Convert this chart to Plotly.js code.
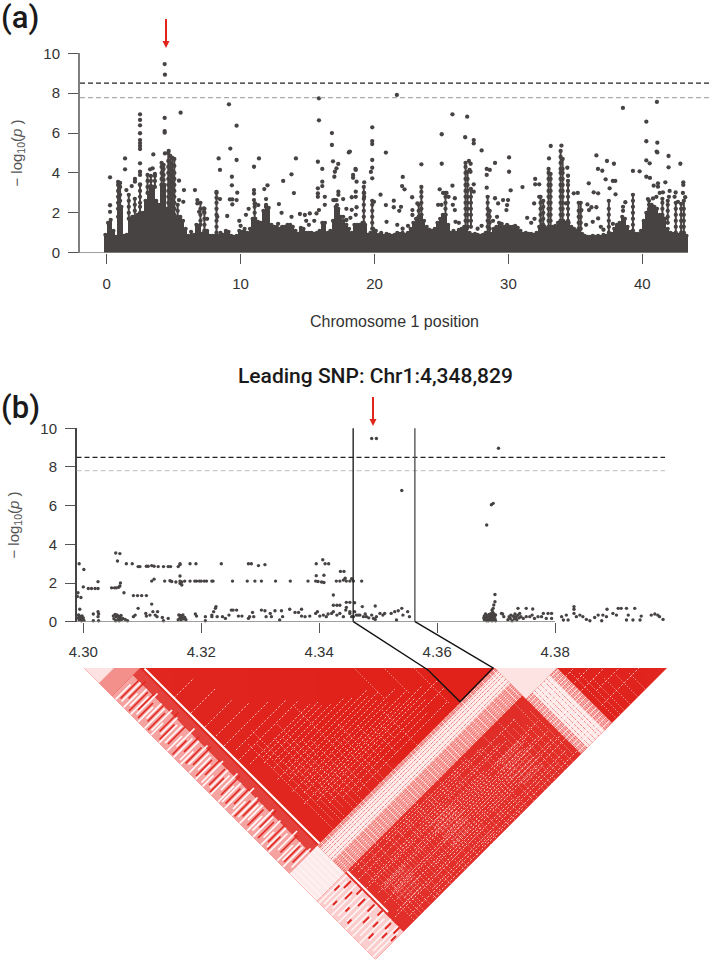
<!DOCTYPE html>
<html><head><meta charset="utf-8">
<script src="https://cdn.plot.ly/plotly-3.0.1.min.js"></script>
<style>html,body{margin:0;padding:0;background:#fff}</style></head>
<body><div id="chart" style="width:709px;height:968px"></div>
<script>
// ---------- panel (a): upper edge of the solid mass of points, every 0.2 Mb ----------
const aBinStart=-0.1, aBinStep=0.2;
const aBinTop=[.9,1.5,1.65,1.1,.8,2.2,2.3,.85,.9,1.7,1.8,1.8,1.9,1.95,2,2.6,3,3.35,3.3,2.6,2.4,3.4,3.4,2.2,2.1,2,1.8,1.7,1.8,1.6,1.2,.85,1.05,.9,1.4,1.35,.95,1.05,1.1,.85,.85,.85,.85,1,.9,1.1,1.05,.85,.8,.85,1.1,1.05,1.2,1,1.2,1.7,1.7,1.55,1.5,2.1,2.3,2.25,1.4,1.3,1.3,1.2,1.3,1.3,1.4,1.4,1.3,1.1,.95,1.25,1.2,1,1,1,.95,1,1.1,1.5,1.5,1,1.1,1.6,2.3,2.2,1.8,1.6,1.4,1.2,1,1.4,1.4,1.4,1.5,1.4,.9,1,1.2,1.1,.9,1,.85,.95,.9,.85,.9,1,.95,1,.9,1,1.2,1.5,1.7,1.8,1.9,1.6,1.3,1.15,1.1,1.2,1.5,1.7,1.9,1.9,1.4,1,1.1,1,1.15,1.2,1.3,1.2,1,.9,.95,.9,.85,.9,1,.9,.95,1.2,1.3,1.5,1.45,1.3,1.4,1.3,1.3,1.35,1.25,1.1,.95,1,.95,.95,.9,1,1.3,1.4,1.3,1.2,1.3,1.3,1.35,1.5,1.6,1.6,1.5,1.5,1.3,1.2,1.1,1.1,.95,.85,.8,.8,.85,.8,.85,.8,.9,.85,.85,.95,1.2,1.4,1.5,1.8,1.7,1.3,1.05,1,.95,.95,1.1,1.6,2,2.1,2.4,2.3,2.2,1.9,1.8,1.7,1.2,1,.95,.95,.9,.9,.95,.85];
// dense columns of points: [Mb, heights...]
const aColumns=[[.85,1.8,2.2,2.5,2.8,3.1,3.4,3.55],[1,2.3,2.6,2.9,3.3,3.5],[1.65,1.7,2,2.3,2.6,2.9],[2.1,1.8,2.1,2.4,2.7],[2.49,2,2.3,2.5,2.8,3.1,3.4],[3.05,3,3.3,3.6,3.9],[3.3,3.3,3.6,3.85],[3.6,3.3,3.6,3.85,3.95],[4.1,3.4,3.7,4,4.3,4.5],[4.25,3.4,3.65,3.9,4.2,4.4],[4.6,2.2,2.5,2.8,3.1,3.4,3.7,4,4.3,4.6,5],[4.75,2.1,2.4,2.7,3,3.3,3.6,3.9,4.2,4.5,4.85],[4.9,2,2.3,2.6,2.9,3.2,3.5,3.8,4.1,4.4,4.75],[5.05,1.9,2.2,2.5,2.8,3.1,3.4,3.7,4,4.35,4.7],[5.3,1.8,2.1,2.4],[7,1.4,1.6,1.9,2.2,2.5],[7.3,1.1,1.4,1.7,2,2.2],[8.2,1,1.3,1.6,1.9,2.2,2.5,2.75,3,3.05],[11.05,1.7,2,2.3,2.45],[11.9,2.3,2.4],[19.2,1.5,1.8,2.1,2.4,2.7,3,3.3],[19.83,1.2,1.5,1.8,2.1,2.4,2.6],[23.3,1.8,2.1,2.4],[23.5,1.9,2.2,2.5,2.8,3.05,3.3],[25.3,1.9,2.2,2.5,2.8,3],[26.8,1.3,1.6,1.9,2.2,2.5,2.8,3.1,3.4,3.7,4,4.3,4.5],[26.95,1.3,1.6,1.9,2.2,2.5,2.8,3.1,3.4,3.7,4.05],[27.2,1.3,1.6,1.9,2.2,2.5,2.8,3.2],[28.45,1,1.3,1.6,1.9,2.2,2.5,2.8],[28.6,.9,1.2,1.5,1.8,2.1],[32.4,1.3,1.6,1.9,2.2,2.5,2.8],[32.6,1.4,1.7,2,2.3,2.6],[33,1.3,1.6,1.9,2.2,2.5,2.8,3.1,3.4,3.7,4,4.2],[33.15,1.3,1.6,1.9,2.2,2.5,2.8,3.1,3.4,3.7,3.95],[33.9,1.6,1.9,2.2,2.5,2.8,3.1,3.4,3.7,4,4.2,4.5,4.8,5.1],[34.05,1.6,1.9,2.2,2.5,2.8,3.1,3.4,3.7,4,4.2,4.7],[34.45,1.6,1.9,2.2,2.5,2.8,3.1,3.4,3.6],[35.25,1.2,1.5,1.8,2.1,2.5],[35.4,1.2,1.5,1.8,2.1,2.5],[37.5,1,1.3,1.6,1.9,2.2,2.6],[39.3,1.1,1.4,1.7,2,2.3,2.6,2.9],[40.5,2.2,2.4,2.6],[41.5,1.9,2.2,2.5,2.7],[41.9,1.5,1.8,2.1,2.4,2.6],[42.5,1,1.3,1.6,1.9,2.2,2.5],[42.9,1,1.3,1.6,1.9,2.2,2.45],[43.1,1,1.3,1.6,1.9,2.2,2.6]];
const aPoints=[[4.33,9.46],[4.35,8.93],[4.33,6.76],[4.33,6.1],[4.33,6.02],[5.52,7.02],[9.13,7.44],[9.23,5.22],[9.7,6.37],[9.7,4.65],[9.35,3.81],[9.35,3.38],[9.75,3.01],[9.2,2.67],[9.38,2.67],[9.38,2.42],[9.7,2.64],[.25,3.78],[1.37,4.73],[1.37,4.18],[1.47,3.14],[1.87,3.34],[2.11,3.7],[2.11,3.56],[2.49,6.94],[2.49,6.66],[2.49,6.39],[2.49,5.99],[2.49,5.65],[2.49,5.5],[2.49,5.35],[2.49,5.2],[2.49,4.48],[2.49,4.06],[2.49,3.9],[2.49,3.43],[3.48,4.93],[4.35,4.98],[4.63,5.1],[3.43,4.23],[3.24,4.18],[5.4,3.61],[5.77,3.14],[6.59,3.14],[6.77,2.64],[6.77,2.47],[7.26,2.22],[7.26,2.05],[5.4,2.64],[5.72,2.55],[8.36,4.73],[8.46,4.15],[8.46,2.69],[8.26,1.8],[9,1.84],[.25,2.38],[.25,2.05],[11,4.31],[11.37,4.73],[11,3.14],[11,2.97],[11,2.64],[11.07,2.47],[11.32,2.39],[11.77,3.19],[12.01,3.38],[11.9,2.69],[12.86,2.44],[13.06,2],[13.18,3.6],[13.8,3.93],[13.98,2.99],[14.13,4.73],[13.8,1.8],[14.43,1.94],[14.8,1.89],[15.17,1.97],[15.67,1.97],[15.85,7.74],[15.85,6.64],[15.77,4.56],[15.77,3.23],[15.77,2.97],[15.77,2.8],[15.85,2.14],[16.1,4.2],[16.1,3.56],[16.1,3.34],[16.29,2.8],[16.29,2.4],[16.82,6],[16.82,5.4],[16.9,4.58],[17.29,4.45],[17.16,4.23],[17.04,4.06],[17,3.81],[17.3,3.06],[17.3,2.9],[16.92,2.64],[17.04,2.64],[17.16,2.64],[17.2,2.39],[18.08,5.03],[18.4,3.9],[18.4,3.76],[18.58,4.2],[18.66,3.56],[18.6,3.06],[18.6,2.8],[18.3,2.78],[17.66,2.69],[17.9,2.2],[18.3,2.15],[18.66,2.28],[17.66,1.8],[17.9,1.64],[18.2,1.75],[18.6,1.9],
[21.67,7.91],[25.82,6.94],[26.92,6.82],[25.02,5.94],[26.77,5.79],[27.41,5.65],[27.41,5.48],[28,5.13],[19.83,6.29],[19.83,5.6],[19.83,5.45],[19.83,4.65],[19.83,4.26],[19.73,4.05],[19.83,3.73],[20.85,5.02],[18.16,5.07],[23.5,4.43],[25.02,4.46],[22.11,3.8],[22.06,3.34],[22.24,3.18],[18.6,4.15],[19.23,3.53],[19.23,3],[19.23,2.8],[20.45,2.91],[19.96,2.55],[20.85,2.39],[21.44,2.61],[21.44,2.28],[21.98,2.3],[21.85,2.1],[22.81,2.78],[22.83,2.14],[22.83,1.89],[23.2,2.47],[24.87,3.18],[25.12,3],[25.38,3],[25.53,2.8],[24.75,2.4],[25,2.4],[25.82,3.36],[26,2.73],[25.85,2.4],[26,2.14],[27.05,4.6],[27.18,4.46],[27.1,4.15],[27.17,4.06],[27.41,3.43],[27.41,3.06],[28.38,4.2],[28.61,4.15],[28.38,3.9],[28.38,3.26],[29,4.5],[29,2.73],[29.23,2.47],[29.6,2.64],[30.05,4.78],[30.05,4.06],[30.17,3.13],[29.97,2.64],[29.9,2.39],[29.85,2.14],[31.05,3.29],[31.92,2.47],[32,3.7],[32,3.43],[32.3,3.43],[32.3,2.8],[33.03,4.73],[33.16,5.35],[33.96,5.37],[34.4,4.26],[34.45,3.86],[34.3,2.47],[34.88,2.98],[35.18,3],[35.9,2.42],[35.45,2.14],[36.02,2.14],[36.2,2.28],[36.57,2.28],[36,3.48],[36.37,3.03],[36.7,2.98],[36.57,4.88],[36.69,4.2],[37.01,4.11],[37.36,4.6],[37.88,4.46],[37.26,3.68],[37.56,3.23],[37.8,3.6],[37.98,3.6],[38,2.93],[36.7,1.72],[38.55,7.26],[38.73,2.53],[38.56,2.3],[38.56,2.1],[39.3,4.1],[39.8,4.08],[40.3,6.57],[40.3,5.59],[40.3,4.63],[40.55,4.48],[40.3,3.81],[40.57,3.75],[41.09,7.56],[41.12,5.52],[41.07,5.07],[41.12,5.03],[41.96,4.85],[41.96,4.28],[42.84,4.46],[41.72,3.53],[41.17,3.48],[41.17,3.31],[40.85,3.36],[43.06,3.53],[43.06,3.4],[42.04,3.1],[42.49,3.02],[43.03,3],[43.2,2.78],[40.42,2.69],[40.8,2.72],[41.05,2.8],[41.3,3],[41.54,3.03],[41.99,2.8],[42.41,2.8],[42.66,2.55],[29.15,1.8],[28.85,1.6],[31.4,1.75],[31.7,1.5],[31.95,1.7],[35.8,1.4],[36.3,1.55],[36.9,1.3],[37.1,1.15],[37.8,1.45],[22.1,1.2],[22.5,1.35],[20.9,1.55],[21.7,1.4],[6.9,2.05],[7.5,1.7],[9.9,1.6],[10,1.35],[10.6,2.2],[10.4,1.9],[12.8,1.45],[14.9,1.6],[15.1,1.4],[15.5,1.6],[26.3,1.5],[26.05,1.55],[27.7,1.2],[28,1.35]];
const aThreshold1=8.5, aThreshold2=7.78;

// ---------- panel (b): points [kb from 4,300 kb, -log10 p] ----------
const bUpperRows=[[9.3,2.85],[9.6,2.85],[10.7,2.87],[11,2.87],[11.6,2.9],[12,2.87],[12.7,2.85],[13.6,2.85],[14.4,2.85],[14.8,2.85],[16.1,2.85],[16.4,2.95],[7.3,3],[8.3,3],[16.4,3],[18.1,3],[19.1,3],[23.4,3],[28,3],[28.5,3],[29.7,2.9],[30.8,2.95],[39.5,3],[40.6,3.2],[41,3],[41.6,3],[5.5,3.55],[6.2,3.52],[5.8,3.14],[-.7,3],[.1,2.7],[11.6,2.1],[12,2.2],[13.8,2.1],[14.7,2.12],[15,2.08],[15.7,2.05],[16.4,2.1],[16.7,2.05],[17.2,2.1],[18.1,2.1],[18.9,2.1],[19.2,2.1],[19.7,2.1],[20,2.1],[20.5,2.1],[20.9,2.1],[21.8,2.1],[22,2.1],[25.3,2.1],[27.8,2.1],[29.1,2.1],[30.2,2.1],[32.6,2.1],[35.1,2.1],[38.1,2.1],[39.4,2.1],[39.8,2.08],[40.4,2.05],[40.8,2.03],[42.9,2.1],[43.5,2.1],[44.1,2.15],[44.6,2.1],[45.2,2.1],[45.8,2.1],[16.4,2.36],[16.4,1.98],[16.7,1.9],[39.5,2.38],[40.8,2.4],[43.6,2.6],[44.2,2.6],[44.4,2.25],[45.5,2.22],[0,1.8],[.85,1.72],[1.4,1.72],[2,1.72],[2.5,1.72],[2.5,2.07],[4.8,1.75],[5.3,1.75],[5.6,1.75],[6,1.78],[6.2,1.85],[6.3,2],[6.9,1.5],[8.5,1.35],[9.2,1.35],[9.9,1.35],[10.7,1.35],[-.9,1.5],[-1,1.3],[-.4,1.25],[42.4,1.38],[42.4,.85],[43,.85],[43.5,.85],[44.6,1],[45.2,1],[47.2,2.1],[46,.98],[47.3,.78],[49.5,.81]];
const bLowRows=[[-.9,.2],[-.8,.35],[-.7,.1],[-.6,.28],[-.5,.15],[-.4,.22],[-.3,.05],[-.2,.3],[-.1,.12],[0,.2],[.1,.07],[-.6,.64],[1.7,.4],[2.5,.52],[2.6,.4],[2.5,.26],[2.6,.05],[1.7,.05],[5.1,.3],[5.2,.15],[5.4,.38],[5.5,.05],[5.6,.25],[5.7,.35],[5.9,.12],[6,.28],[6.1,.05],[6.2,.22],[6.4,.32],[6.5,.12],[6.7,.17],[7.1,.12],[7.5,.05],[8.5,.26],[8.8,.34],[9.3,.69],[10.7,.29],[10.6,.43],[11.3,.34],[11.6,.91],[11.8,.52],[12.2,.34],[12.6,.52],[12.5,.26],[13.4,.22],[13.6,.05],[14.4,.17],[16.1,.1],[16.2,.35],[16.4,.2],[16.5,.32],[16.6,.1],[16.7,.25],[16.9,.35],[17,.15],[17.2,.22],[17.4,.1],[19,.4],[19.2,.29],[20.7,.26],[20.7,.05],[21.8,.34],[22.1,.52],[22.4,.69],[22.5,.78],[21.8,.26],[22.7,.26],[23.6,.26],[24.1,.17],[24.7,.34],[25.1,.6],[25.4,.6],[26,.6],[26.3,.29],[26.9,.29],[28,.17],[28.2,.26],[28.7,.48],[28.9,.26],[30.2,.6],[30.8,.57],[31,.26],[31.7,.43],[31.9,.26],[32.5,.57],[33.6,.57],[33.8,.26],[33.3,.09],[35,.64],[35.9,.48],[36.5,.48],[37,.64],[37,.29],[37.6,.26],[38.4,.29],[39.4,.43],[39.7,.52],[40.1,.29],[40.7,.34],[41.2,.26],[41.5,.4],[42.1,.43],[42.4,.52],[43,.34],[43.5,.43],[44.1,.26],[44.5,.6],[44.6,.74],[45.2,.52],[45.5,.26],[46,.52],[46.6,.34],[45.2,.43],[45.8,.26],[46.3,.34],[46.9,.34],[47.5,.26],[48,.26],[48.9,.34],[49.2,.17],[49.7,.26],[50.3,.43],[50.8,.34],[51.1,.43],[52.2,.43],[52.8,.52],[53.4,.57],[54,.69],[54.2,.34],[55,.52],[55.3,.26],[53.1,.09],[47.8,.4],[48.4,.2],[49.5,.12],[68,.3],[68,.1],[68.2,.4],[68.3,.2],[68.4,.05],[68.5,.3],[68.6,.15],[68.8,.38],[68.9,.25],[69,.1],[69.1,.42],[69.2,.3],[69.2,.18],[69.3,.05],[69.4,.5],[69.4,.35],[69.5,.22],[69.6,.1],[69.6,.42],[69.7,.28],[69.8,.15],[69.9,.05],[69.9,.35],[67.9,.2],[68.7,.05],[69.3,.6],[69.5,.69],[69.6,.86],[69.8,1.03],[69.8,1.41],[70.9,.43],[71.3,.26],[71.1,.4],[72,.1],[72.2,.26],[72.4,.17],[72.5,.34],[72.7,.05],[72.9,.28],[73.1,.15],[73.2,.4],[73.4,.26],[73.5,.1],[73.7,.34],[73.7,.69],[73.9,.2],[74,.43],[74.2,.26],[75.1,.69],[76.2,.66],[74.6,.17],[75.1,.26],[75.7,.26],[76.1,.34],[76.5,.17],[77.1,.26],[77.7,.26],[78,.43],[78.5,.17],[78.8,.43],[79.4,.43],[79.4,.17],[81.1,.26],[81.4,.09],[81.9,.34],[82.2,.09],[83.2,.78],[83.2,.64],[83.2,.43],[83.6,.26],[84.2,.34],[84.7,.26],[85.3,.12],[85.9,.05],[86.7,.22],[87.3,.34],[88.1,.34],[88.8,.64],[88.7,.26],[87.9,.05],[89.8,.43],[90.7,.69],[91.2,.69],[92.1,.69],[93.5,.69],[90.4,.34],[92.4,.34],[92.1,.09],[93.2,.09],[94.6,.29],[94.4,.09],[96.3,.34],[96.9,.4],[97.4,.34],[97.7,.26],[98.3,.12]];
const bLeadPoints=[[48.9,9.47],[49.7,9.47],[54,6.78],[70.4,8.97],[68.4,5],[69.2,6.05],[69.5,6.12]];

// ---------- LD triangle, in SNP rank (0..583) ----------
const ldRanks=583;
const ldBase='#e0261f';
// blocks [a0,a1,b0,b1,colour]
const ldRects=[[0,42,56,411,'#f5a3a0'],[42,56,56,411,'#e4413c'],[56,411,411,466,'#f7a9a6'],[56,411,417,441,'#fee9e8'],[411,473,473,583,'#f7a9a6'],[424,458,473,583,'#fee9e8'],[0,56,411,466,'#fdeaea'],[0,56,466,583,'#fbcdcc'],[56,411,466,583,'#e22f2a']];
// triangles along the base [p0,p1,colour]
const ldTriangles=[[0,56,'#f3908c'],[0,30,'#fde2e1'],[411,473,'#fde4e3']];
// solid white line of constant a
const ldWhiteA=[[60,61,411],[60,466,548]];
// speckle lines of constant a: [a,b0,b1]
const ldSpeckA=[[88,240,411],[97,250,400],[105,230,411],[112,300,411],[120,260,400],[129,270,411],[137,250,411],[146,290,411],[155,300,400],[163,330,411],[172,250,360],[181,320,411],[189,330,411],[198,310,390],[207,345,411],[216,330,380],[228,345,400],[240,350,380],[256,340,411],[270,150,330],[300,200,350],[330,250,400],[78,466,583],[85,470,583],[92,490,583],[98,480,583],[103,470,575],[110,490,583],[116,466,560],[122,500,583],[128,500,583],[134,470,580],[139,480,550],[145,495,570],[151,466,583],[156,500,560],[160,510,583],[166,475,575],[172,470,560],[179,500,583],[185,500,583],[191,470,560],[196,466,580],[202,490,560],[207,490,583],[213,470,570],[219,470,570],[225,505,575],[230,510,583],[236,480,583],[242,466,583],[249,500,570],[255,490,580],[262,475,540],[268,470,583],[274,500,570],[279,500,583],[285,470,560],[291,470,583],[298,510,575],[304,520,583],[311,475,545],[317,480,583],[324,500,583],[331,470,560],[338,505,583],[345,500,583],[352,480,583],[360,470,583],[369,490,583],[378,480,583],[386,500,583],[395,466,583],[403,490,575],[482,490,583],[490,500,583],[498,520,583],[510,530,583],[525,540,583],[540,550,583]];
// speckle lines of constant b: [b,a0,a1]
const ldSpeckB=[[120,60,100],[152,62,110],[180,62,115],[200,64,130],[218,62,150],[234,70,170],[247,64,180],[262,70,190],[268,90,200],[275,85,200],[283,100,210],[290,90,230],[298,105,240],[305,82,260],[312,100,255],[318,92,270],[325,110,260],[332,85,290],[338,105,270],[345,95,300],[351,120,280],[356,84,320],[361,110,300],[366,100,340],[373,120,310],[380,110,340],[388,130,300],[397,150,330],[470,60,200],[474,130,290],[478,70,320],[482,150,380],[486,64,260],[491,180,340],[495,120,350],[499,70,230],[503,62,300],[507,200,400],[511,150,380],[515,80,300],[519,70,350],[523,220,390],[527,200,400],[531,90,330],[535,66,320],[539,240,400],[544,110,411],[548,150,320],[552,180,411],[556,70,240],[560,62,300],[564,260,400],[569,130,380],[573,80,250],[576,220,411],[579,120,300],[490,473,560],[505,476,580],[520,475,573],[535,490,578],[555,480,582]];
// denser pink mottling in the lower diamond: [b,a0,a1]
const ldMottle=[[517,85,125],[522,80,120],[527,90,128],[533,84,124],[538,88,122],[544,82,126],[550,90,120],[556,86,118],[504,188,232],[510,192,236],[516,186,230],[522,194,238],[528,190,228],[534,186,234],[540,196,232],[546,192,226],[508,318,362],[514,322,366],[520,316,358],[526,324,368],[532,320,362],[538,316,360],[544,326,364],[550,320,356],[556,324,362]];
// stripes running across the pale left strip: [b,a0,a1]
const ldStripeWhite=[[63,0,30],[71,4,42],[79,0,28],[84,8,42],[93,0,36],[99,6,48],[108,0,30],[113,12,42],[121,0,40],[130,5,46],[134,0,24],[143,10,44],[150,0,36],[156,6,40],[166,0,30],[171,14,50],[179,0,38],[188,4,42],[193,0,26],[201,8,46],[210,0,40],[216,12,38],[223,0,30],[232,3,46],[237,0,22],[246,6,42],[253,0,38],[259,15,48],[268,0,32],[272,4,42],[281,0,40],[290,8,50],[295,0,28],[303,5,44],[311,0,38],[316,12,42],[326,0,30],[331,6,48],[338,0,40],[349,10,44],[354,0,26],[362,4,42],[369,0,38],[376,12,50],[386,0,32],[391,6,42],[398,0,40],[407,8,46]];
const ldStripeRed=[[67,6,42],[75,14,48],[88,2,40],[96,12,44],[104,4,34],[117,10,42],[126,2,36],[139,12,50],[147,4,34],[160,8,42],[175,2,30],[184,16,46],[197,6,38],[206,12,48],[220,4,36],[228,14,44],[242,8,40],[250,2,30],[264,10,48],[277,6,36],[286,14,44],[299,2,34],[307,10,42],[321,6,38],[335,16,50],[344,4,36],[358,10,44],[365,2,28],[381,12,46],[394,6,38],[403,14,42]];
// flecks inside the tip of the triangle (a<56, b>466)
const ldTipWhite=[[470,0,56],[476,4,50],[482,0,44],[489,8,56],[495,0,40],[502,6,56],[509,0,50],[516,10,56],[523,0,46],[530,4,56],[537,0,38],[544,8,56],[551,0,50],[558,12,56],[565,0,44],[572,6,56],[578,0,50]];
const ldTipRed=[[473,28,38],[480,40,54],[486,12,20],[492,30,44],[499,46,56],[505,18,26],[512,36,50],[519,8,16],[527,40,54],[534,24,36],[541,46,56],[548,30,40],[555,14,24],[562,40,52],[568,28,38],[575,44,56],[580,34,44]];
// hatching inside the pale cross-shaped bands
const ldHatchA=[2,9,16,23,31,38,45,52,63,71,78,86,93,101,108,117,124,131,139,147,154,163,170,178,187,194,202,209,218,226,233,242,249,257,266,273,281,288,297,305,312,320,329,336,344,353,361,369,376,385,392,400,407];
const ldHatchB=[476,481,487,492,497,503,508,514,520,525,531,538,545,552,558,565,571,578];
const ldBandRedB=[413,415,419,423,427,433,438,444,447,450,453,456,459,462,464];
const ldBandRedA=[413,416,420,423,428,434,440,447,452,460,463,466,469,471];

// ---------- shared ----------
const dark='#474342';
const xAxisA=[-1.994,44.98], xAxisB=[4.29885,4.39863];
const W=709,H=968;
const px=v=>v/W, py=v=>1-v/H;

function pairs(list,i){return list.map(p=>p[i]);}
function xy(a,b){return [(a+b)/2,(b-a)/2];}
function poly(corners,color){
  const pts=corners.map(c=>xy(c[0],c[1]));pts.push(pts[0]);
  return {x:pairs(pts,0),y:pairs(pts,1),xaxis:'x3',yaxis:'y3',mode:'lines',fill:'toself',fillcolor:color,line:{width:0},hoverinfo:'skip',showlegend:false};
}
function rect(r){return poly([[r[0],r[2]],[r[0],r[3]],[r[1],r[3]],[r[1],r[2]]],r[4]);}
function tri(t){return poly([[t[0],t[0]],[t[0],t[1]],[t[1],t[1]]],t[2]);}
function segs(list,color,width,op,dash){
  const X=[],Y=[];
  list.forEach(s=>{const p=xy(s[0][0],s[0][1]),q=xy(s[1][0],s[1][1]);X.push(p[0],q[0],null);Y.push(p[1],q[1],null);});
  return {x:X,y:Y,xaxis:'x3',yaxis:'y3',mode:'lines',connectgaps:false,line:{color:color,width:width,dash:dash||'solid'},opacity:op===undefined?1:op,hoverinfo:'skip',showlegend:false};
}
const constA=l=>l.map(s=>[[s[0],s[1]],[s[0],s[2]]]);
const constB=l=>l.map(s=>[[s[1],s[0]],[s[2],s[0]]]);

const traces=[];
// (a)
const binX=aBinTop.map((_,i)=>aBinStart+i*aBinStep);
traces.push({type:'bar',x:binX,y:aBinTop,width:aBinStep*1.05,marker:{color:dark,line:{width:0}},hoverinfo:'skip',showlegend:false,xaxis:'x',yaxis:'y'});
traces.push({x:binX,y:aBinTop,mode:'markers',marker:{color:dark,size:4.2},hoverinfo:'skip',showlegend:false,xaxis:'x',yaxis:'y'});
{const X=[],Y=[],MX=[],MY=[];aColumns.forEach(c=>{const ys=c.slice(1);X.push(c[0],c[0],null);Y.push(ys[0],ys[ys.length-1],null);ys.forEach(v=>{MX.push(c[0]);MY.push(v);});});
 traces.push({x:X,y:Y,mode:'lines',connectgaps:false,line:{color:dark,width:2},hoverinfo:'skip',showlegend:false,xaxis:'x',yaxis:'y'});
 traces.push({x:MX,y:MY,mode:'markers',marker:{color:dark,size:4.3},hoverinfo:'skip',showlegend:false,xaxis:'x',yaxis:'y'});}
traces.push({x:pairs(aPoints,0),y:pairs(aPoints,1),mode:'markers',marker:{color:dark,size:4.3},cliponaxis:false,showlegend:false,xaxis:'x',yaxis:'y'});
// (b)
const kb=l=>l.map(p=>4.3+p[0]/1000);
[bUpperRows,bLowRows,bLeadPoints].forEach(l=>traces.push({x:kb(l),y:pairs(l,1),mode:'markers',marker:{color:dark,size:3.4},cliponaxis:false,showlegend:false,xaxis:'x2',yaxis:'y2'}));
// LD
traces.push(tri([0,ldRanks,ldBase]));
ldRects.forEach(r=>traces.push(rect(r)));
ldTriangles.forEach(t=>traces.push(tri(t)));
traces.push(segs(constA(ldSpeckA),'#ffd9d7',1,.85,'1px,2px'));
traces.push(segs(constB(ldSpeckB),'#ffd9d7',1,.85,'2px,2px'));
traces.push(segs(constB(ldMottle),'#fbd2d0',1.2,.7,'1px,1px'));
traces.push(segs(ldHatchA.map(a=>[[a,411],[a,466]]),'#ffffff',1,.8));
traces.push(segs(ldBandRedB.map(b=>[[56,b],[411,b]]),'#e33a35',.8,.7,'3px,1px'));
traces.push(segs(ldBandRedA.map(a=>[[a,473],[a,583]]),'#e33a35',.8,.7,'3px,1px'));
traces.push(segs(ldHatchB.map(b=>[[411,b],[473,b]]),'#ffffff',1,.8));
traces.push(segs(constB(ldStripeWhite),'#ffffff',1.6));
traces.push(segs(constB(ldStripeRed),'#e0261f',1.6));
traces.push(segs(constB(ldTipWhite),'#ffffff',1.4,.9));
traces.push(segs(constB(ldTipRed),'#e0261f',1.8));
traces.push(segs(constA(ldWhiteA),'#ffffff',2));

const red='#e1251b';
const dash='5px,3px';
const shapes=[
 {type:'line',xref:'x',yref:'y',x0:xAxisA[0],x1:xAxisA[1],y0:aThreshold1,y1:aThreshold1,line:{color:'#222',width:1.2,dash}},
 {type:'line',xref:'x',yref:'y',x0:xAxisA[0],x1:xAxisA[1],y0:aThreshold2,y1:aThreshold2,line:{color:'#aaa',width:1.2,dash}},
 {type:'line',xref:'x',yref:'y',x0:xAxisA[0],x1:43.33,y0:0,y1:0,line:{color:'#7f7f7f',width:1.5}},
 {type:'line',xref:'x2',yref:'y2',x0:xAxisB[0],x1:xAxisB[1],y0:8.5,y1:8.5,line:{color:'#222',width:1.2,dash}},
 {type:'line',xref:'x2',yref:'y2',x0:xAxisB[0],x1:xAxisB[1],y0:7.81,y1:7.81,line:{color:'#ccc',width:1.2,dash}},
 {type:'line',xref:'x2',yref:'y2',x0:xAxisB[0],x1:4.38,y0:0,y1:0,line:{color:'#7f7f7f',width:1.5}},
 {type:'line',xref:'x2',yref:'y2',x0:4.34576,x1:4.34576,y0:0,y1:10.1,line:{color:'#222',width:1.4}},
 {type:'line',xref:'x2',yref:'y2',x0:4.35622,x1:4.35622,y0:0,y1:10.1,line:{color:'#555',width:1.4}},
 {type:'path',xref:'paper',yref:'paper',path:`M${px(353.3)},${py(621.7)} L${px(428)},${py(670)} L${px(460)},${py(701.7)} L${px(493)},${py(668)} L${px(415)},${py(621.7)}`,line:{color:'#111',width:1.4}},
 // red arrows marking the leading SNP
 {type:'line',xref:'paper',yref:'paper',x0:px(166),x1:px(166),y0:py(19),y1:py(42),line:{color:red,width:2}},
 {type:'path',xref:'paper',yref:'paper',path:`M${px(162.5)},${py(41)} L${px(169.5)},${py(41)} L${px(166)},${py(48)} Z`,fillcolor:red,line:{width:0}},
 {type:'line',xref:'paper',yref:'paper',x0:px(373),x1:px(373),y0:py(397),y1:py(420),line:{color:red,width:2}},
 {type:'path',xref:'paper',yref:'paper',path:`M${px(369.5)},${py(419)} L${px(376.5)},${py(419)} L${px(373)},${py(426)} Z`,fillcolor:red,line:{width:0}}
];
const annotations=[
 {xref:'paper',yref:'paper',x:px(-1),y:py(17),text:'(a)',showarrow:false,xanchor:'left',yanchor:'middle',font:{family:'Roboto',size:31,weight:500,color:'#1a1a1a'}},
 {xref:'paper',yref:'paper',x:px(-1),y:py(408),text:'(b)',showarrow:false,xanchor:'left',yanchor:'middle',font:{family:'Roboto',size:31,weight:500,color:'#1a1a1a'}},
 {xref:'paper',yref:'paper',x:px(375.5),y:py(376),text:'Leading SNP: Chr1:4,348,829',showarrow:false,xanchor:'center',yanchor:'middle',font:{family:'Roboto',size:21,weight:500,color:'#1a1a1a'}}
];
const tickFont={family:'Liberation Sans',size:15,color:'#333'};
const yCommon={range:[0,10],tickvals:[0,2,4,6,8,10],ticks:'outside',ticklen:10,tickwidth:1,tickcolor:'#555',showline:true,showgrid:false,zeroline:false,tickfont:tickFont,ticklabelstandoff:5};
const ytitle=()=>({text:'− log<sub>10</sub>(<i>p</i> )',font:{family:'Liberation Sans',size:15,color:'#555'},standoff:17});
const layout={
 width:W,height:H,margin:{l:0,r:0,t:0,b:0},paper_bgcolor:'#fff',plot_bgcolor:'rgba(0,0,0,0)',showlegend:false,hovermode:false,bargap:0,
 xaxis:{domain:[px(80),1],range:xAxisA,tickvals:[0,10,20,30,40],ticks:'outside',ticklen:10,tickwidth:1,tickcolor:'#555',showgrid:false,zeroline:false,showline:false,tickfont:tickFont,ticklabelstandoff:7,anchor:'y',title:{text:'Chromosome 1 position',font:{family:'Liberation Sans',size:16,color:'#333'},standoff:25}},
 yaxis:Object.assign({},yCommon,{domain:[py(252.7),py(53.3)],anchor:'x',linecolor:'#7f7f7f',linewidth:2,title:ytitle()}),
 xaxis2:{domain:[px(76.5),px(665)],range:xAxisB,tickvals:[4.30,4.32,4.34,4.36,4.38],ticktext:['4.30','4.32','4.34','4.36','4.38'],ticks:'outside',ticklen:10,tickwidth:1,tickcolor:'#555',showgrid:false,zeroline:false,showline:false,tickfont:tickFont,ticklabelstandoff:6,anchor:'y2'},
 yaxis2:Object.assign({},yCommon,{domain:[py(621.7),py(428.3)],anchor:'x2',linecolor:'#444',linewidth:1.5,title:ytitle()}),
 xaxis3:{domain:[px(84),px(667)],range:[0,ldRanks],visible:false,anchor:'y3',fixedrange:true},
 yaxis3:{domain:[py(959.5),py(668)],range:[ldRanks/2,0],visible:false,anchor:'x3',fixedrange:true},
 shapes,annotations
};
Plotly.newPlot('chart',traces,layout,{displayModeBar:false,staticPlot:true});
</script></body></html>
